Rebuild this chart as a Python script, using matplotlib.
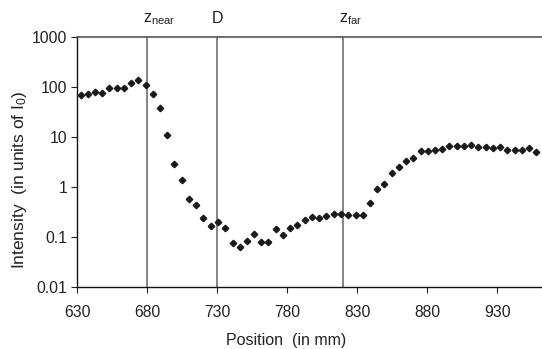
import matplotlib
matplotlib.use("Agg")
import matplotlib.pyplot as plt
import matplotlib.ticker as ticker

plt.rcParams["font.family"] = ["Liberation Sans", "DejaVu Sans"]
plt.rcParams["mathtext.fontset"] = "custom"
plt.rcParams["mathtext.rm"] = "Liberation Sans"
plt.rcParams["mathtext.it"] = "Liberation Sans"

# measured positions (mm) and intensities (units of I0)
position = [632.4, 637.6, 642.6, 647.9, 652.9, 658.1, 663.4, 668.4, 673.6, 678.9,
            683.9, 689.1, 694.3, 699.3, 704.6, 709.8, 715.0, 720.0, 725.3, 730.5,
            735.7, 741.0, 746.0, 751.0, 756.2, 761.4, 766.4, 771.7, 776.9, 782.1,
            787.1, 792.4, 797.6, 802.9, 807.9, 813.1, 818.4, 823.6, 828.9, 833.9,
            838.9, 844.1, 849.3, 854.6, 859.8, 864.8, 870.0, 875.3, 880.5, 885.5,
            890.7, 895.7, 901.0, 906.2, 911.4, 916.4, 921.7, 926.9, 932.1, 937.1,
            942.4, 947.6, 952.6, 957.9]
intensity = [69, 71, 79, 75, 94, 95, 94, 121, 135, 106,
             73, 37, 10.7, 2.78, 1.35, 0.57, 0.44, 0.237, 0.167, 0.195,
             0.146, 0.075, 0.063, 0.082, 0.114, 0.078, 0.080, 0.141, 0.107, 0.150,
             0.169, 0.216, 0.252, 0.234, 0.264, 0.29, 0.29, 0.268, 0.268, 0.268,
             0.465, 0.92, 1.13, 1.87, 2.43, 3.24, 3.72, 5.2, 5.1, 5.5,
             5.6, 6.65, 6.65, 6.56, 6.87, 6.35, 6.35, 5.98, 6.15, 5.35,
             5.46, 5.46, 5.87, 4.88]

markers_x = [680, 730, 820]
markers_lbl = [r"z$_{\rm near}$", "D", r"z$_{\rm far}$"]
xticks = [630, 680, 730, 780, 830, 880, 930]
yticks = [0.01, 0.1, 1, 10, 100, 1000]
ytick_lbl = ["0.01", "0.1", "1", "10", "100", "1000"]

fig = plt.figure(figsize=(5.42, 3.49), dpi=100)
ax = fig.add_axes([77.3 / 542, 1 - 286.7 / 349, 1 - 77.3 / 542, 250 / 349])

ax.plot(position, intensity, linestyle="none", marker="D", ms=3.3,
        color="#1a1a1a", mec="#1a1a1a", zorder=3)

for xv, lbl in zip(markers_x, markers_lbl):
    ax.axvline(xv, color="#707070", lw=1.2, zorder=1)
    if lbl == "D":
        ax.text(xv, 1000 * 10 ** 0.28, lbl, ha="center", va="baseline",
                fontsize=11.5, color="#222222")
    else:
        ax.text(xv - 3.0, 1000 * 10 ** 0.28, lbl, ha="left", va="baseline",
                fontsize=11.5, color="#222222")

ax.set_yscale("log")
ax.set_xlim(630, 962)
ax.set_ylim(0.01, 1000)
ax.set_xticks(xticks)
ax.set_yticks(yticks)
ax.set_yticklabels(ytick_lbl)
ax.yaxis.set_minor_locator(ticker.NullLocator())
ax.tick_params(direction="out", length=4, width=0.8, labelsize=11.3,
               colors="#222222", pad=3)
ax.tick_params(axis="x", pad=9.5)

for s in ["left", "bottom"]:
    ax.spines[s].set_color("#111111")
    ax.spines[s].set_linewidth(1.0)
ax.spines["top"].set_color("#555555")
ax.spines["top"].set_linewidth(1.2)
ax.spines["right"].set_visible(False)

ax.set_xlabel("Position  (in mm)", fontsize=11.5, color="#222222")
ax.xaxis.set_label_coords((286.3 - 77.3) / 464.7, -(340 - 286.7) / 250)
ax.xaxis.label.set_va("center")
ax.set_ylabel("Intensity  (in units of I$_0$)", fontsize=12.5, color="#222222")
ax.yaxis.set_label_coords(-(77.3 - 20) / 464.7, (286.7 - 180) / 250)
ax.yaxis.label.set_va("center")

fig.savefig("out.png", dpi=100)
